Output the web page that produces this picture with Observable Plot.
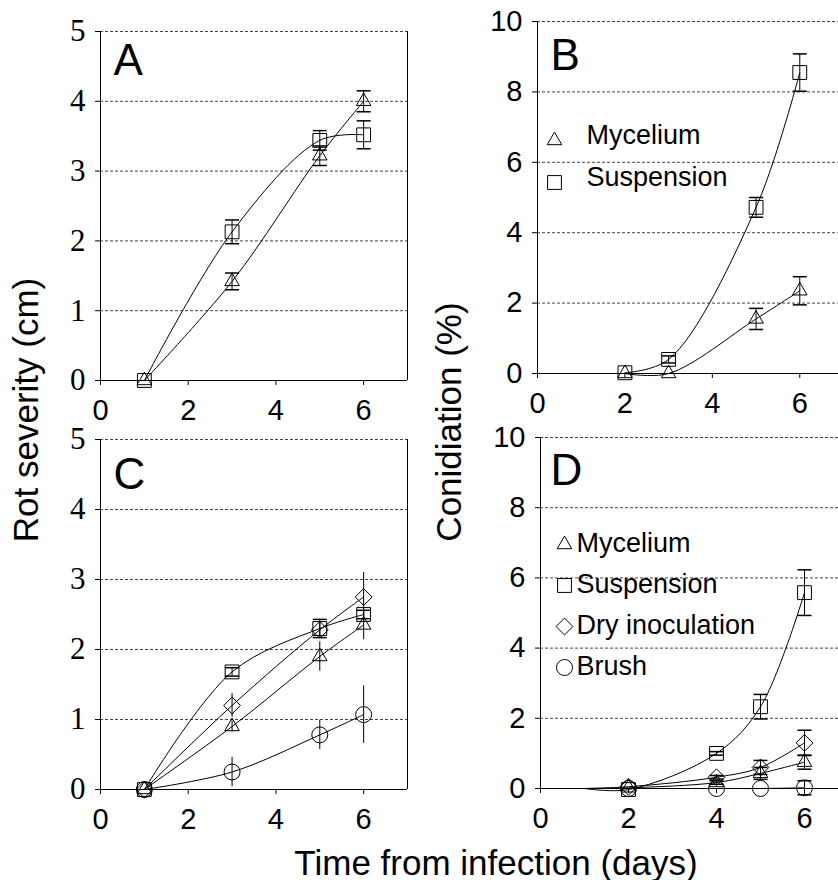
<!DOCTYPE html>
<html>
<head>
<meta charset="utf-8">
<script src="https://cdn.jsdelivr.net/npm/d3@7"></script>
<script src="https://cdn.jsdelivr.net/npm/@observablehq/plot@0.6"></script>
<style>
  body { margin: 0; background: #fff; }
  #root { position: relative; width: 838px; height: 880px; overflow: hidden; background: #fff;
          font-family: "Liberation Sans", Arial, sans-serif; color: #000; }
  .panel { position: absolute; }
  .title { position: absolute; font-size: 35px; line-height: 1; white-space: nowrap;
           transform-origin: center center; }
  .serifLabels text { font-family: "Times New Roman", Times, "Liberation Serif", Tinos, "DejaVu Serif", "Noto Serif", serif !important; }
</style>
</head>
<body>
<div id="root">
  <div id="pA" class="panel" style="left:0px;top:0px"></div>
  <div id="pB" class="panel" style="left:419px;top:0px"></div>
  <div id="pC" class="panel" style="left:0px;top:420px"></div>
  <div id="pD" class="panel" style="left:419px;top:420px"></div>
  <div class="title" style="left:25px;top:410px;transform:translate(-50%,-50%) rotate(-90deg)">Rot severity (cm)</div>
  <div class="title" style="left:448px;top:422px;transform:translate(-50%,-50%) rotate(-90deg)">Conidiation (%)</div>
  <div class="title" style="left:496px;top:862px;transform:translate(-50%,-50%)">Time from infection (days)</div>
</div>
<script>
// ---------- data ----------
const xDomain = [0, 7];
const xTicks = [0, 2, 4, 6];
const rotTicks = [0, 1, 2, 3, 4, 5];
const conTicks = [0, 2, 4, 6, 8, 10];

// Panel A – rot severity (cm)
const daysA = [1, 3, 5, 6];
const aMycelium = [0, 1.42, 3.22, 4.0];
const aMyceliumErr = [0, 0.12, 0.14, 0.15];
const aSuspension = [0, 2.13, 3.44, 3.52];
const aSuspensionErr = [0, 0.17, 0.14, 0.2];

// Panel B – conidiation (%)
const daysB = [2, 3, 5, 6];
const bMycelium = [0, 0, 1.55, 2.35];
const bMyceliumErr = [0, 0, 0.3, 0.4];
const bSuspension = [0.02, 0.4, 4.72, 8.55];
const bSuspensionErr = [0, 0.1, 0.28, 0.53];

// Panel C – rot severity (cm)
const daysC = [1, 3, 5, 6];
const cMycelium = [0, 0.9, 1.9, 2.35];
const cMyceliumErr = [0, 0.08, 0.21, 0.21];
const cSuspension = [0, 1.68, 2.3, 2.5];
const cSuspensionErr = [0, 0.06, 0.13, 0.06];
const cDry = [0, 1.2, 2.28, 2.75];
const cDryErr = [0, 0.17, 0.12, 0.35];
const cBrush = [0, 0.25, 0.78, 1.07];
const cBrushErr = [0, 0.21, 0.21, 0.41];

// Panel D – conidiation (%); lines start at day 1, markers from day 2
const daysD = [1, 2, 4, 5, 6];
const dMarked = [false, true, true, true, true];
const dMycelium = [0, 0.02, 0.17, 0.43, 0.75];
const dMyceliumErr = [0, 0, 0.05, 0.17, 0.2];
const dSuspension = [0, -0.03, 1.0, 2.33, 5.58];
const dSuspensionErr = [0, 0, 0.05, 0.35, 0.65];
const dDry = [0, 0.05, 0.32, 0.6, 1.3];
const dDryErr = [0, 0, 0.05, 0.2, 0.36];
const dBrush = [0, 0, 0, 0, 0.02];
const dBrushErr = [0, 0, 0, 0, 0.2];

const legendB = ["Mycelium", "Suspension"];
const legendD = ["Mycelium", "Suspension", "Dry inoculation", "Brush"];

// ---------- styling ----------
const SYM = {
  "Mycelium": {symbol: "triangle", r: 5.4},
  "Suspension": {symbol: "square", r: 7.8},
  "Dry inoculation": {symbol: "diamond2", r: 7.6},
  "Brush": {symbol: "circle", r: 8}
};
const capSymbol = { draw(context) { context.moveTo(-7, 0); context.lineTo(7, 0); } };
const intFmt = d3.format("d");
const serif = "Times New Roman, Times, Liberation Serif, Tinos, DejaVu Serif, Noto Serif, serif";
const sans = "Liberation Sans, Arial, sans-serif";

function rows(days, vals, errs, marked) {
  return days.map((day, i) => ({day, v: vals[i], e: errs[i], m: marked ? marked[i] : true}));
}

function panel(cfg) {
  const marks = [];
  marks.push(Plot.ruleY(cfg.yTicks.filter(t => t > 0), {stroke: "#444", strokeDasharray: "3,2", strokeWidth: 1}));
  marks.push(Plot.ruleY([0], {stroke: "#000", strokeWidth: 1}));
  marks.push(Plot.ruleX(xDomain, {stroke: "#000", strokeWidth: 1}));
  marks.push(Plot.axisX({ticks: xTicks, tickFormat: intFmt, tickSize: 5, tickPadding: 14, fontSize: 29, label: null,
    fontFamily: sans}));
  marks.push(Plot.axisY({ticks: cfg.yTicks, tickSize: 5, text: null, label: null}));
  marks.push(Plot.text(cfg.yTicks, {y: d => d, text: d => intFmt(d), frameAnchor: "left", dx: -15,
    textAnchor: "end", lineAnchor: "middle", fontSize: cfg.yFontSize, fontFamily: cfg.yFont, fill: "#000",
    ariaLabel: "ytick-labels"}));
  for (const s of cfg.series) {
    const data = rows(s.days, s.vals, s.errs, s.marked);
    const sym = SYM[s.name];
    marks.push(Plot.line(data, {x: "day", y: "v", curve: "catmull-rom", stroke: "#000", strokeWidth: 1}));
    const withErr = data.filter(d => d.m && d.e > 0);
    marks.push(Plot.ruleX(withErr, {x: "day", y1: d => d.v - d.e, y2: d => d.v + d.e, stroke: "#000", strokeWidth: 1}));
    if (s.cap) {
      marks.push(Plot.dot(withErr, {x: "day", y: d => d.v + d.e, symbol: capSymbol, r: 4, stroke: "#000", fill: "none"}));
      marks.push(Plot.dot(withErr, {x: "day", y: d => d.v - d.e, symbol: capSymbol, r: 4, stroke: "#000", fill: "none"}));
    }
    marks.push(Plot.dot(data.filter(d => d.m), {x: "day", y: "v", symbol: sym.symbol, r: sym.r,
      stroke: "#000", fill: "none", strokeWidth: 1}));
  }
  marks.push(Plot.text([cfg.letter], {frameAnchor: "top-left", text: d => d, dx: cfg.letterDx, dy: cfg.letterDy,
    fontSize: 44, textAnchor: "start", lineAnchor: "top", fill: "#000", fontFamily: sans}));
  if (cfg.legend) {
    const L = cfg.legendLayout;
    cfg.legend.forEach((name, i) => {
      const sym = SYM[name];
      marks.push(Plot.dot([name], {frameAnchor: "top-left", dx: L.symDx, dy: L.symDy + i * L.step,
        symbol: sym.symbol, r: sym.r, stroke: "#000", fill: "none", strokeWidth: 1}));
      marks.push(Plot.text([name], {frameAnchor: "top-left", dx: L.textDx, dy: L.textDy + i * L.step,
        text: d => d, fontSize: 27, textAnchor: "start", lineAnchor: "middle", fill: "#000", fontFamily: sans}));
    });
  }
  const svg = Plot.plot({
    width: 419, height: 440,
    marginLeft: cfg.mL, marginTop: cfg.mT, marginBottom: cfg.mB, marginRight: cfg.mR,
    x: {domain: xDomain, range: cfg.xRange},
    y: {domain: [cfg.yTicks[0], cfg.yTicks[cfg.yTicks.length - 1]], range: cfg.yRange},
    style: {fontSize: "29px", background: "transparent", maxWidth: "none", overflow: "visible", color: "#000"},
    marks
  });
  if (cfg.serifY) {
    d3.select(svg).selectAll('g[aria-label="ytick-labels"]').classed("serifLabels", true);
    d3.select(svg).selectAll('g[aria-label="ytick-labels"] text').style("font-family", cfg.yFont);
  }
  document.getElementById(cfg.el).appendChild(svg);
}

panel({
  el: "pA", letter: "A", letterDx: 13, letterDy: 12, serifY: true,
  yTicks: rotTicks, yFont: serif, yFontSize: 31,
  mL: 100, mT: 31, mB: 60, mR: 12, xRange: [100, 407], yRange: [380, 31],
  series: [
    {name: "Mycelium", days: daysA, vals: aMycelium, errs: aMyceliumErr, cap: true},
    {name: "Suspension", days: daysA, vals: aSuspension, errs: aSuspensionErr, cap: true}
  ]
});
panel({
  el: "pB", letter: "B", letterDx: 13, letterDy: 17,
  yTicks: conTicks, yFont: sans, yFontSize: 29,
  mL: 118, mT: 21, mB: 67, mR: 0, xRange: [118, 424], yRange: [373, 21],
  series: [
    {name: "Mycelium", days: daysB, vals: bMycelium, errs: bMyceliumErr, cap: true},
    {name: "Suspension", days: daysB, vals: bSuspension, errs: bSuspensionErr, cap: true}
  ],
  legend: legendB, legendLayout: {symDx: 17, symDy: 119, textDx: 49, textDy: 114, step: 42}
});
panel({
  el: "pC", letter: "C", letterDx: 13, letterDy: 18, serifY: true,
  yTicks: rotTicks, yFont: serif, yFontSize: 31,
  mL: 100, mT: 19, mB: 71, mR: 12, xRange: [100, 407], yRange: [369, 19],
  series: [
    {name: "Mycelium", days: daysC, vals: cMycelium, errs: cMyceliumErr, cap: false},
    {name: "Suspension", days: daysC, vals: cSuspension, errs: cSuspensionErr, cap: true},
    {name: "Dry inoculation", days: daysC, vals: cDry, errs: cDryErr, cap: false},
    {name: "Brush", days: daysC, vals: cBrush, errs: cBrushErr, cap: false}
  ]
});
panel({
  el: "pD", letter: "D", letterDx: 10, letterDy: 16,
  yTicks: conTicks, yFont: sans, yFontSize: 29,
  mL: 121, mT: 17, mB: 72, mR: 0, xRange: [121, 429], yRange: [368, 17],
  series: [
    {name: "Mycelium", days: daysD, vals: dMycelium, errs: dMyceliumErr, marked: dMarked, cap: true},
    {name: "Suspension", days: daysD, vals: dSuspension, errs: dSuspensionErr, marked: dMarked, cap: true},
    {name: "Dry inoculation", days: daysD, vals: dDry, errs: dDryErr, marked: dMarked, cap: true},
    {name: "Brush", days: daysD, vals: dBrush, errs: dBrushErr, marked: dMarked, cap: true}
  ],
  legend: legendD, legendLayout: {symDx: 24, symDy: 107, textDx: 36, textDy: 106, step: 41}
});
</script>
</body>
</html>
